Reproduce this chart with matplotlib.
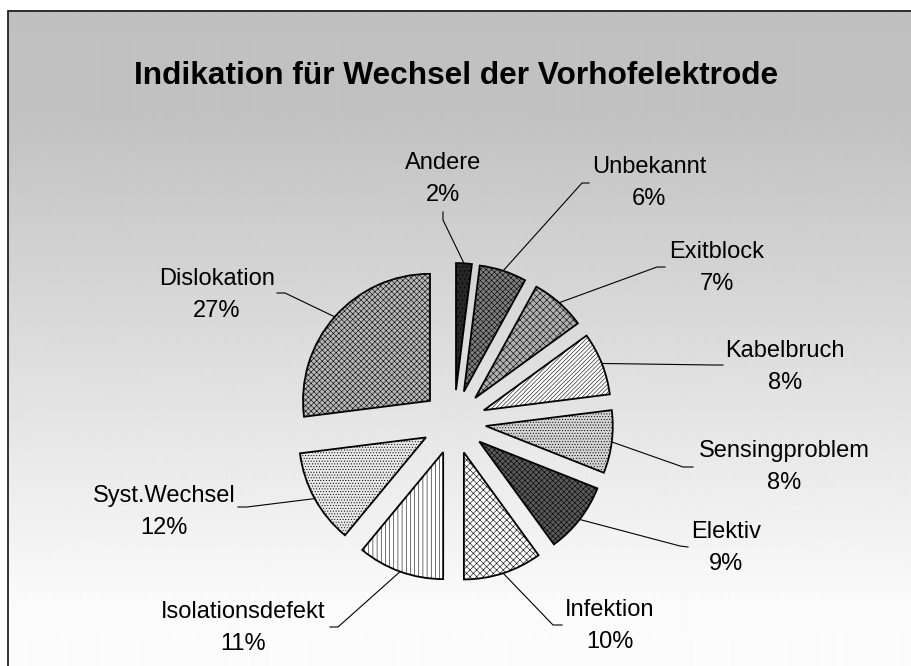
import numpy as np
import matplotlib
matplotlib.use("Agg")
import matplotlib.pyplot as plt
from matplotlib.patches import Rectangle

# ---- data ----
categories = ["Andere", "Unbekannt", "Exitblock", "Kabelbruch", "Sensingproblem",
              "Elektiv", "Infektion", "Isolationsdefekt", "Syst.Wechsel", "Dislokation"]
values = [2, 6, 7, 8, 8, 9, 10, 11, 12, 27]
title = "Indikation für Wechsel der Vorhofelektrode"

# ---- styles ----
faces = ["#262626", "#7e7e7e", "#b0b0b0", "#ffffff", "#d4d4d4",
         "#5a5a5a", "#ffffff", "#ffffff", "#e8e8e8", "#b8b8b8"]
hatches = ["....", "xxxxxx", "xxxxx", "////////", "......",
           "xxxxxx", "xxxxx", "||||", "......", "xxxxxx"]

W, H = 912, 666
def img(x, y):
    return (x, H - y)

# label block centres and leader elbows/ends in image pixels (layout)
label_pos = [(443, 179), (649, 183), (717, 268), (785, 367), (784, 467),
             (726, 548), (610, 626), (243, 628), (164, 512), (217, 295)]
elbows = [(443, 220), (582, 183), (657, 267), (713, 365), (683, 467),
          (680, 546), (553, 625), (338, 627), (247, 507), (285, 293)]
ends = [(443, 212), (589, 183), (665, 267), (723, 365), (693, 467),
        (688, 547), (562, 625), (330, 627), (238, 507), (277, 293)]

plt.rcParams['font.family'] = ['Liberation Sans', 'DejaVu Sans']
plt.rcParams['hatch.linewidth'] = 0.4

fig = plt.figure(figsize=(W / 100, H / 100), dpi=100)
fig.patch.set_facecolor("white")
ax = fig.add_axes([0, 0, 1, 1])

# background gradient inside frame
top, bottom = 10, H
rows = np.arange(top, bottom)
g = np.interp(rows, [10, 110, 600, 666], [192, 193, 250, 252]) / 255.0
grad = np.repeat(g[:, None], 2, axis=1)
ax.imshow(grad, cmap="gray", vmin=0, vmax=1, origin="upper",
          extent=[8, W, 0, H - top], aspect="auto", zorder=0, interpolation="bilinear")
ax.add_patch(Rectangle((8.5, -5), W + 20, H - 10.5 + 5, fill=False,
                       edgecolor="#222222", linewidth=1.3, zorder=1))

cx, cy = img(454, 422)
R = 127
wedges, _ = ax.pie(values, explode=[32] * len(values), radius=R, center=(cx, cy),
                   startangle=90, counterclock=False, colors=faces,
                   wedgeprops=dict(edgecolor="black", linewidth=1.3))
for w, h in zip(wedges, hatches):
    w.set_hatch(h)
    w.set_zorder(2)

for w, name, v, lp, el, en in zip(wedges, categories, values, label_pos, elbows, ends):
    tm = np.deg2rad(0.5 * (w.theta1 + w.theta2))
    ax0, ay0 = w.center
    px, py = ax0 + R * np.cos(tm), ay0 + R * np.sin(tm)
    ex, ey = img(*el)
    nx, ny = img(*en)
    ax.plot([px, ex, nx], [py, ey, ny], color="black", linewidth=0.8, zorder=3)
    tx, ty = img(*lp)
    ax.text(tx, ty, f"{name}\n{v}%", ha="center", va="center", fontsize=17,
            linespacing=1.6, zorder=4)

tx, ty = img(456, 76)
ax.text(tx, ty, title, ha="center", va="center", fontsize=22.8, fontweight="bold", zorder=4)

ax.set_xlim(0, W)
ax.set_ylim(0, H)
ax.set_aspect("auto")
ax.axis("off")
fig.savefig("out.png", dpi=100)
